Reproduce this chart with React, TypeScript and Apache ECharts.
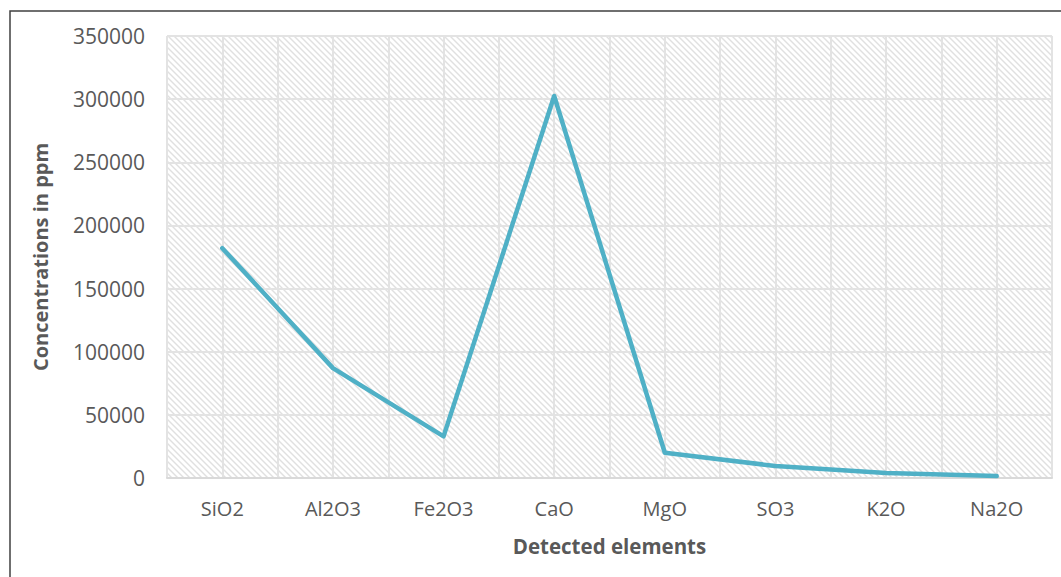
import React, { useEffect, useRef } from "react";
import * as echarts from "echarts";

const categories = ["SiO2", "Al2O3", "Fe2O3", "CaO", "MgO", "SO3", "K2O", "Na2O"];
const concentrations = [182000, 87000, 33000, 302500, 20000, 9500, 4000, 1500];
const yTicks = { min: 0, max: 350000, interval: 50000 };
const halfSteps = Array.from({ length: categories.length * 2 }, () => "");

function makeHatch(): string {
  const s = 6;
  const c = document.createElement("canvas");
  c.width = s;
  c.height = s;
  const ctx = c.getContext("2d")!;
  ctx.fillStyle = "#ffffff";
  ctx.fillRect(0, 0, s, s);
  ctx.strokeStyle = "#e0e0e0";
  ctx.lineWidth = 1.4;
  for (let k = -1; k <= 1; k++) {
    ctx.beginPath();
    ctx.moveTo(-1, -1 + k * s);
    ctx.lineTo(s + 1, s + 1 + k * s);
    ctx.stroke();
  }
  return c.toDataURL();
}

export default function App() {
  const ref = useRef<HTMLDivElement>(null);
  useEffect(() => {
    if (!ref.current) return;
    const chart = echarts.init(ref.current, undefined, { renderer: "svg" });
    const font = "'Open Sans', sans-serif";
    const textColor = "#595959";
    chart.setOption({
      animation: false,
      backgroundColor: "#ffffff",
      textStyle: { fontFamily: font },
      graphic: [
        {
          type: "rect",
          shape: { x: 10, y: 11, width: 1200, height: 700 },
          style: { fill: "none", stroke: "#404040", lineWidth: 1.5 },
          z: 100,
        },
      ],
      grid: {
        left: 167,
        right: 9,
        top: 36,
        bottom: 99,
        show: true,
        borderWidth: 0,
        backgroundColor: { image: makeHatch(), repeat: "repeat" },
      },
      xAxis: [
        {
          type: "category",
          data: categories,
          boundaryGap: true,
          name: "Detected elements",
          nameLocation: "middle",
          nameGap: 57,
          nameTextStyle: { fontFamily: font, fontSize: 20.5, fontWeight: "bold", color: textColor },
          axisLine: { show: true, lineStyle: { color: "#d9d9d9", width: 2 } },
          axisTick: { show: false },
          axisLabel: { fontFamily: font, fontSize: 20, color: textColor, margin: 20 },
          splitLine: { show: false },
        },
        {
          type: "category",
          data: halfSteps,
          boundaryGap: true,
          position: "bottom",
          axisLine: { show: false },
          axisTick: { show: false },
          axisLabel: { show: false },
          splitLine: { show: true, interval: 0, lineStyle: { color: "#e3e3e3", width: 2 } },
        },
      ],
      yAxis: {
        type: "value",
        min: yTicks.min,
        max: yTicks.max,
        interval: yTicks.interval,
        name: "Concentrations in ppm",
        nameLocation: "middle",
        nameGap: 117,
        nameTextStyle: { fontFamily: font, fontSize: 20, fontWeight: "bold", color: textColor },
        axisLine: { show: false },
        axisTick: { show: false },
        axisLabel: {
          fontFamily: font,
          fontSize: 21,
          color: textColor,
          margin: 22,
          formatter: (v: number) => String(v),
        },
        splitLine: { show: true, lineStyle: { color: "#e3e3e3", width: 2 } },
      },
      series: [
        {
          type: "line",
          data: concentrations,
          xAxisIndex: 0,
          showSymbol: false,
          symbol: "none",
          lineStyle: { color: "#4fb0c6", width: 4.5, cap: "round", join: "round" },
          z: 10,
        },
      ],
    });
    return () => chart.dispose();
  }, []);
  return (
    <div
      ref={ref}
      style={{ position: "fixed", left: 0, top: 0, width: 1061, height: 577 }}
    />
  );
}
